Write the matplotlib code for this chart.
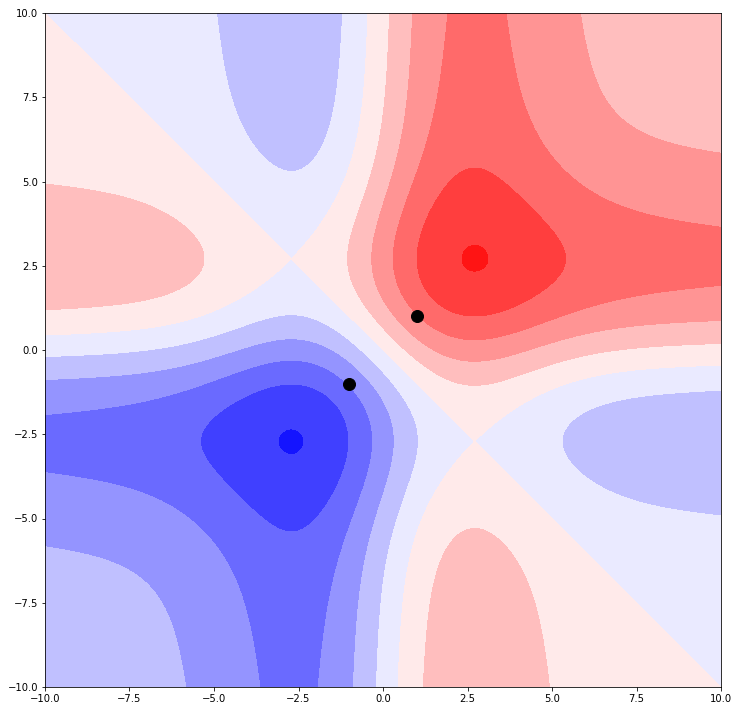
import numpy as np
import matplotlib
matplotlib.use("Agg")
import matplotlib.pyplot as plt

bump_amp, bump_width = 0.54, 3.475
tail_amp, tail_width = 0.25, 4.0

levels = np.arange(-3, 3.01, 0.5)
dots_x = [1, -1]
dots_y = [1, -1]


def g(t):
    return bump_amp * t * np.exp(-(t / bump_width) ** 2) + tail_amp * t / (1 + (t / tail_width) ** 2)


x = np.linspace(-10, 10, 600)
X, Y = np.meshgrid(x, x)
Z = g(X) + g(Y)

fig = plt.figure(figsize=(731 / 72, 704 / 72), dpi=72)
ax = fig.add_axes([45 / 731, 17 / 704, 676 / 731, 674 / 704])
ax.contourf(X, Y, Z, levels=levels, cmap="bwr")
ax.scatter(dots_x, dots_y, c="black", s=144, zorder=3)
fig.savefig("out.png", dpi=72)
